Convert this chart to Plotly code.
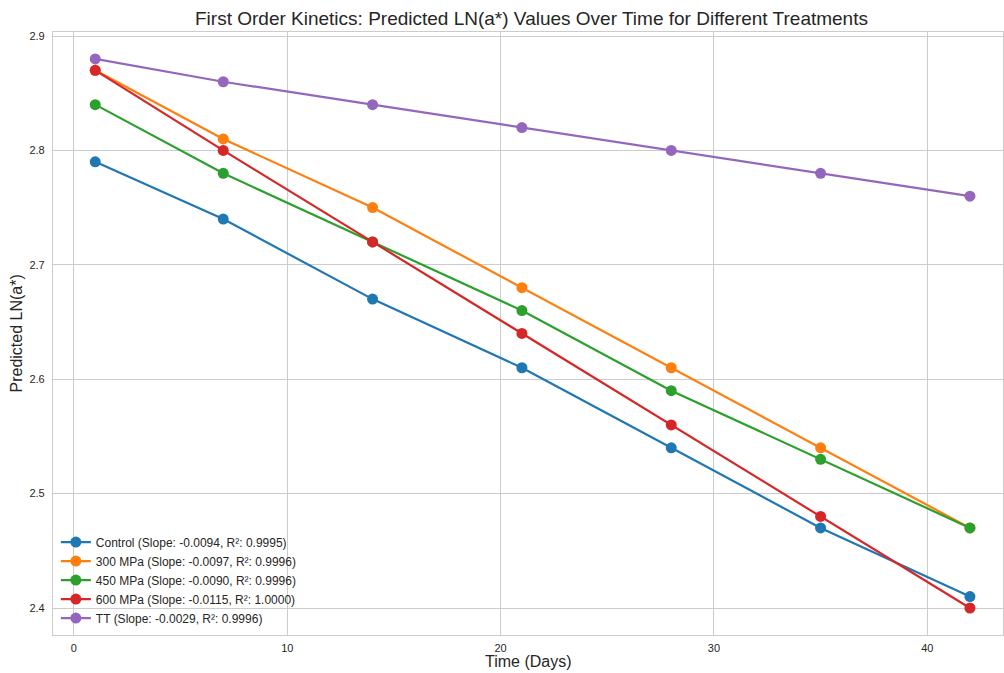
import plotly.graph_objects as go

days = [1, 7, 14, 21, 28, 35, 42]
control = [2.79, 2.74, 2.67, 2.61, 2.54, 2.47, 2.41]
mpa300 = [2.87, 2.81, 2.75, 2.68, 2.61, 2.54, 2.47]
mpa450 = [2.84, 2.78, 2.72, 2.66, 2.59, 2.53, 2.47]
mpa600 = [2.87, 2.80, 2.72, 2.64, 2.56, 2.48, 2.40]
tt = [2.88, 2.86, 2.84, 2.82, 2.80, 2.78, 2.76]

names = [
    "Control (Slope: -0.0094, R²: 0.9995)",
    "300 MPa (Slope: -0.0097, R²: 0.9996)",
    "450 MPa (Slope: -0.0090, R²: 0.9996)",
    "600 MPa (Slope: -0.0115, R²: 1.0000)",
    "TT (Slope: -0.0029, R²: 0.9996)",
]
series = [control, mpa300, mpa450, mpa600, tt]
colors = ["#1f77b4", "#ff7f0e", "#2ca02c", "#d62728", "#9467bd"]

fig = go.Figure()
for name, vals, c in zip(names, series, colors):
    fig.add_trace(go.Scatter(
        x=days, y=vals, name=name, mode="lines+markers",
        line=dict(color=c, width=2.2),
        marker=dict(color=c, size=11),
    ))

font = "Liberation Sans, Arial, sans-serif"
W, H = 1004, 673
L, R, T, B = 53, 1, 32, 38
fig.update_layout(
    width=W, height=H,
    margin=dict(l=L, r=R, t=T, b=B, autoexpand=False),
    paper_bgcolor="white", plot_bgcolor="white",
    font=dict(family=font, color="#262626", size=11),
    xaxis=dict(range=[-0.98, 43.55], tickvals=[0, 10, 20, 30, 40],
               showgrid=True, gridcolor="#cccccc", gridwidth=1, automargin=False,
               zeroline=False, showline=True, linecolor="#cccccc", linewidth=1.2,
               mirror=True, ticks="", ticklabelstandoff=3,
               tickfont=dict(size=11, color="#262626")),
    yaxis=dict(range=[2.3764, 2.9035], tickvals=[2.4, 2.5, 2.6, 2.7, 2.8, 2.9],
               tickformat=".1f", automargin=False,
               showgrid=True, gridcolor="#cccccc", gridwidth=1,
               zeroline=False, showline=True, linecolor="#cccccc", linewidth=1.2,
               mirror=True, ticks="", ticklabelstandoff=5,
               tickfont=dict(size=11, color="#262626")),
    legend=dict(x=0.003, y=0.004, xanchor="left", yanchor="bottom",
                bgcolor="rgba(255,255,255,0)", borderwidth=0,
                font=dict(size=12, color="#262626"), tracegroupgap=0,
                itemwidth=30),
    showlegend=True,
    annotations=[
        dict(text="First Order Kinetics: Predicted LN(a*) Values Over Time for Different Treatments",
             xref="paper", yref="paper", x=0.504, y=(H - 18 - B) / (H - T - B),
             xanchor="center", yanchor="middle", showarrow=False,
             font=dict(size=19, color="#262626")),
        dict(text="Time (Days)", xref="paper", yref="paper", x=0.5,
             y=-(661 - (H - B)) / (H - T - B), xanchor="center", yanchor="middle",
             showarrow=False, font=dict(size=16, color="#262626")),
        dict(text="Predicted LN(a*)", xref="paper", yref="paper",
             x=-(L - 16) / (W - L - R), y=0.5, xanchor="center", yanchor="middle",
             textangle=-90, showarrow=False, font=dict(size=16, color="#262626")),
    ],
)

fig.write_html("out.html", config={"displayModeBar": False},
               post_script="document.body.style.margin='0';document.body.style.overflow='hidden';")
